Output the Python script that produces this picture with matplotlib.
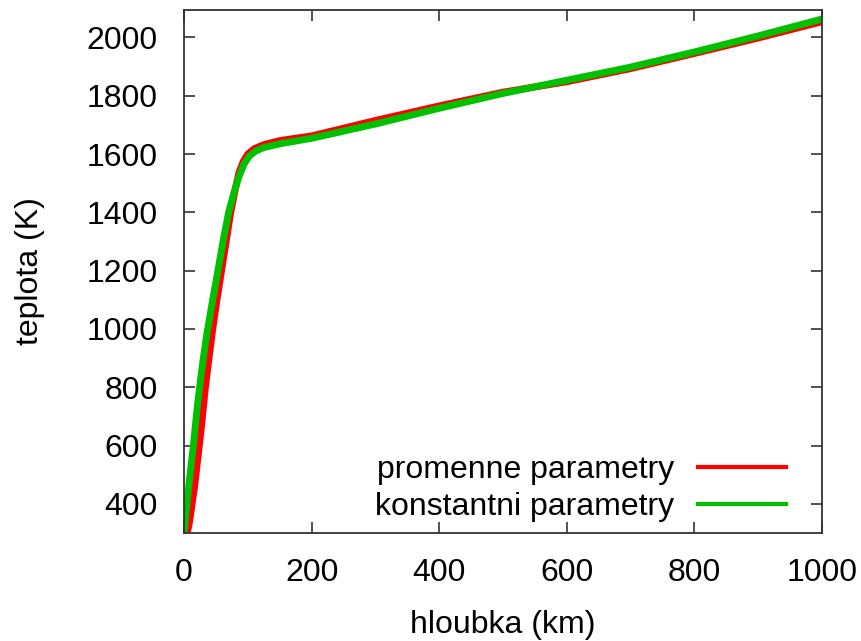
import matplotlib
matplotlib.use("Agg")
from matplotlib import pyplot as plt
from matplotlib.lines import Line2D

plt.rcParams["font.family"] = ["Liberation Sans", "DejaVu Sans"]

# hloubka (km) a teplota (K) pro obe varianty modelu
hloubka_prom = [0, 8, 16, 20, 24, 28, 33, 38, 45, 52, 59, 66, 73, 80, 86,
                93, 100, 110, 125, 150, 200, 300, 400, 500, 600, 700, 800,
                900, 1000]
teplota_prom = [250, 330, 450, 525, 600, 680, 790, 880, 1000, 1105, 1202,
                1300, 1397, 1475, 1535, 1575, 1600, 1618, 1632, 1646, 1662,
                1715, 1765, 1812, 1848, 1893, 1945, 1998, 2054]

hloubka_konst = [0, 5, 10, 15, 20, 25, 30, 36, 45, 54, 62, 70, 78, 86, 94,
                 102, 112, 125, 150, 200, 300, 400, 500, 600, 700, 800, 900,
                 1000]
teplota_konst = [300, 410, 510, 605, 715, 810, 895, 985, 1100, 1210, 1310,
                 1400, 1465, 1522, 1565, 1592, 1610, 1622, 1635, 1654, 1703,
                 1757, 1808, 1853, 1898, 1950, 2005, 2063]

x_ticks = [0, 200, 400, 600, 800, 1000]
y_ticks = [400, 600, 800, 1000, 1200, 1400, 1600, 1800, 2000]

RED = "#ff0000"
GREEN = "#00c000"
FS = 23

fig = plt.figure(figsize=(8.61, 6.41), dpi=100)
ax = fig.add_axes([0.2137, 0.1685, 0.9547 - 0.2137, 0.9844 - 0.1685])

ax.plot(hloubka_prom, teplota_prom, color=RED, lw=5, solid_capstyle="butt")
ax.plot(hloubka_konst, teplota_konst, color=GREEN, lw=5, solid_capstyle="butt")

ax.set_xlim(0, 1000)
ax.set_ylim(300, 2094)
ax.set_xticks(x_ticks)
ax.set_yticks(y_ticks)
ax.tick_params(direction="in", length=8, width=1.2, color="#333333",
               top=True, right=True, labelsize=FS)
ax.tick_params(axis="x", pad=18)
ax.tick_params(axis="y", pad=19)
for s in ax.spines.values():
    s.set_linewidth(1.3)
    s.set_color("#333333")

ax.set_xlabel("hloubka (km)", fontsize=FS, labelpad=16)
ax.set_ylabel("teplota (K)", fontsize=FS, labelpad=30)

handles = [Line2D([], [], color=RED, lw=3),
           Line2D([], [], color=GREEN, lw=3)]
ax.legend(handles, ["promenne parametry", "konstantni parametry"],
          loc="lower right", frameon=False, fontsize=FS, markerfirst=False,
          handlelength=2.75, handletextpad=0.75, labelspacing=0.22,
          borderaxespad=0.3, bbox_to_anchor=(0.978, -0.022))

fig.savefig("out.png", dpi=100)
